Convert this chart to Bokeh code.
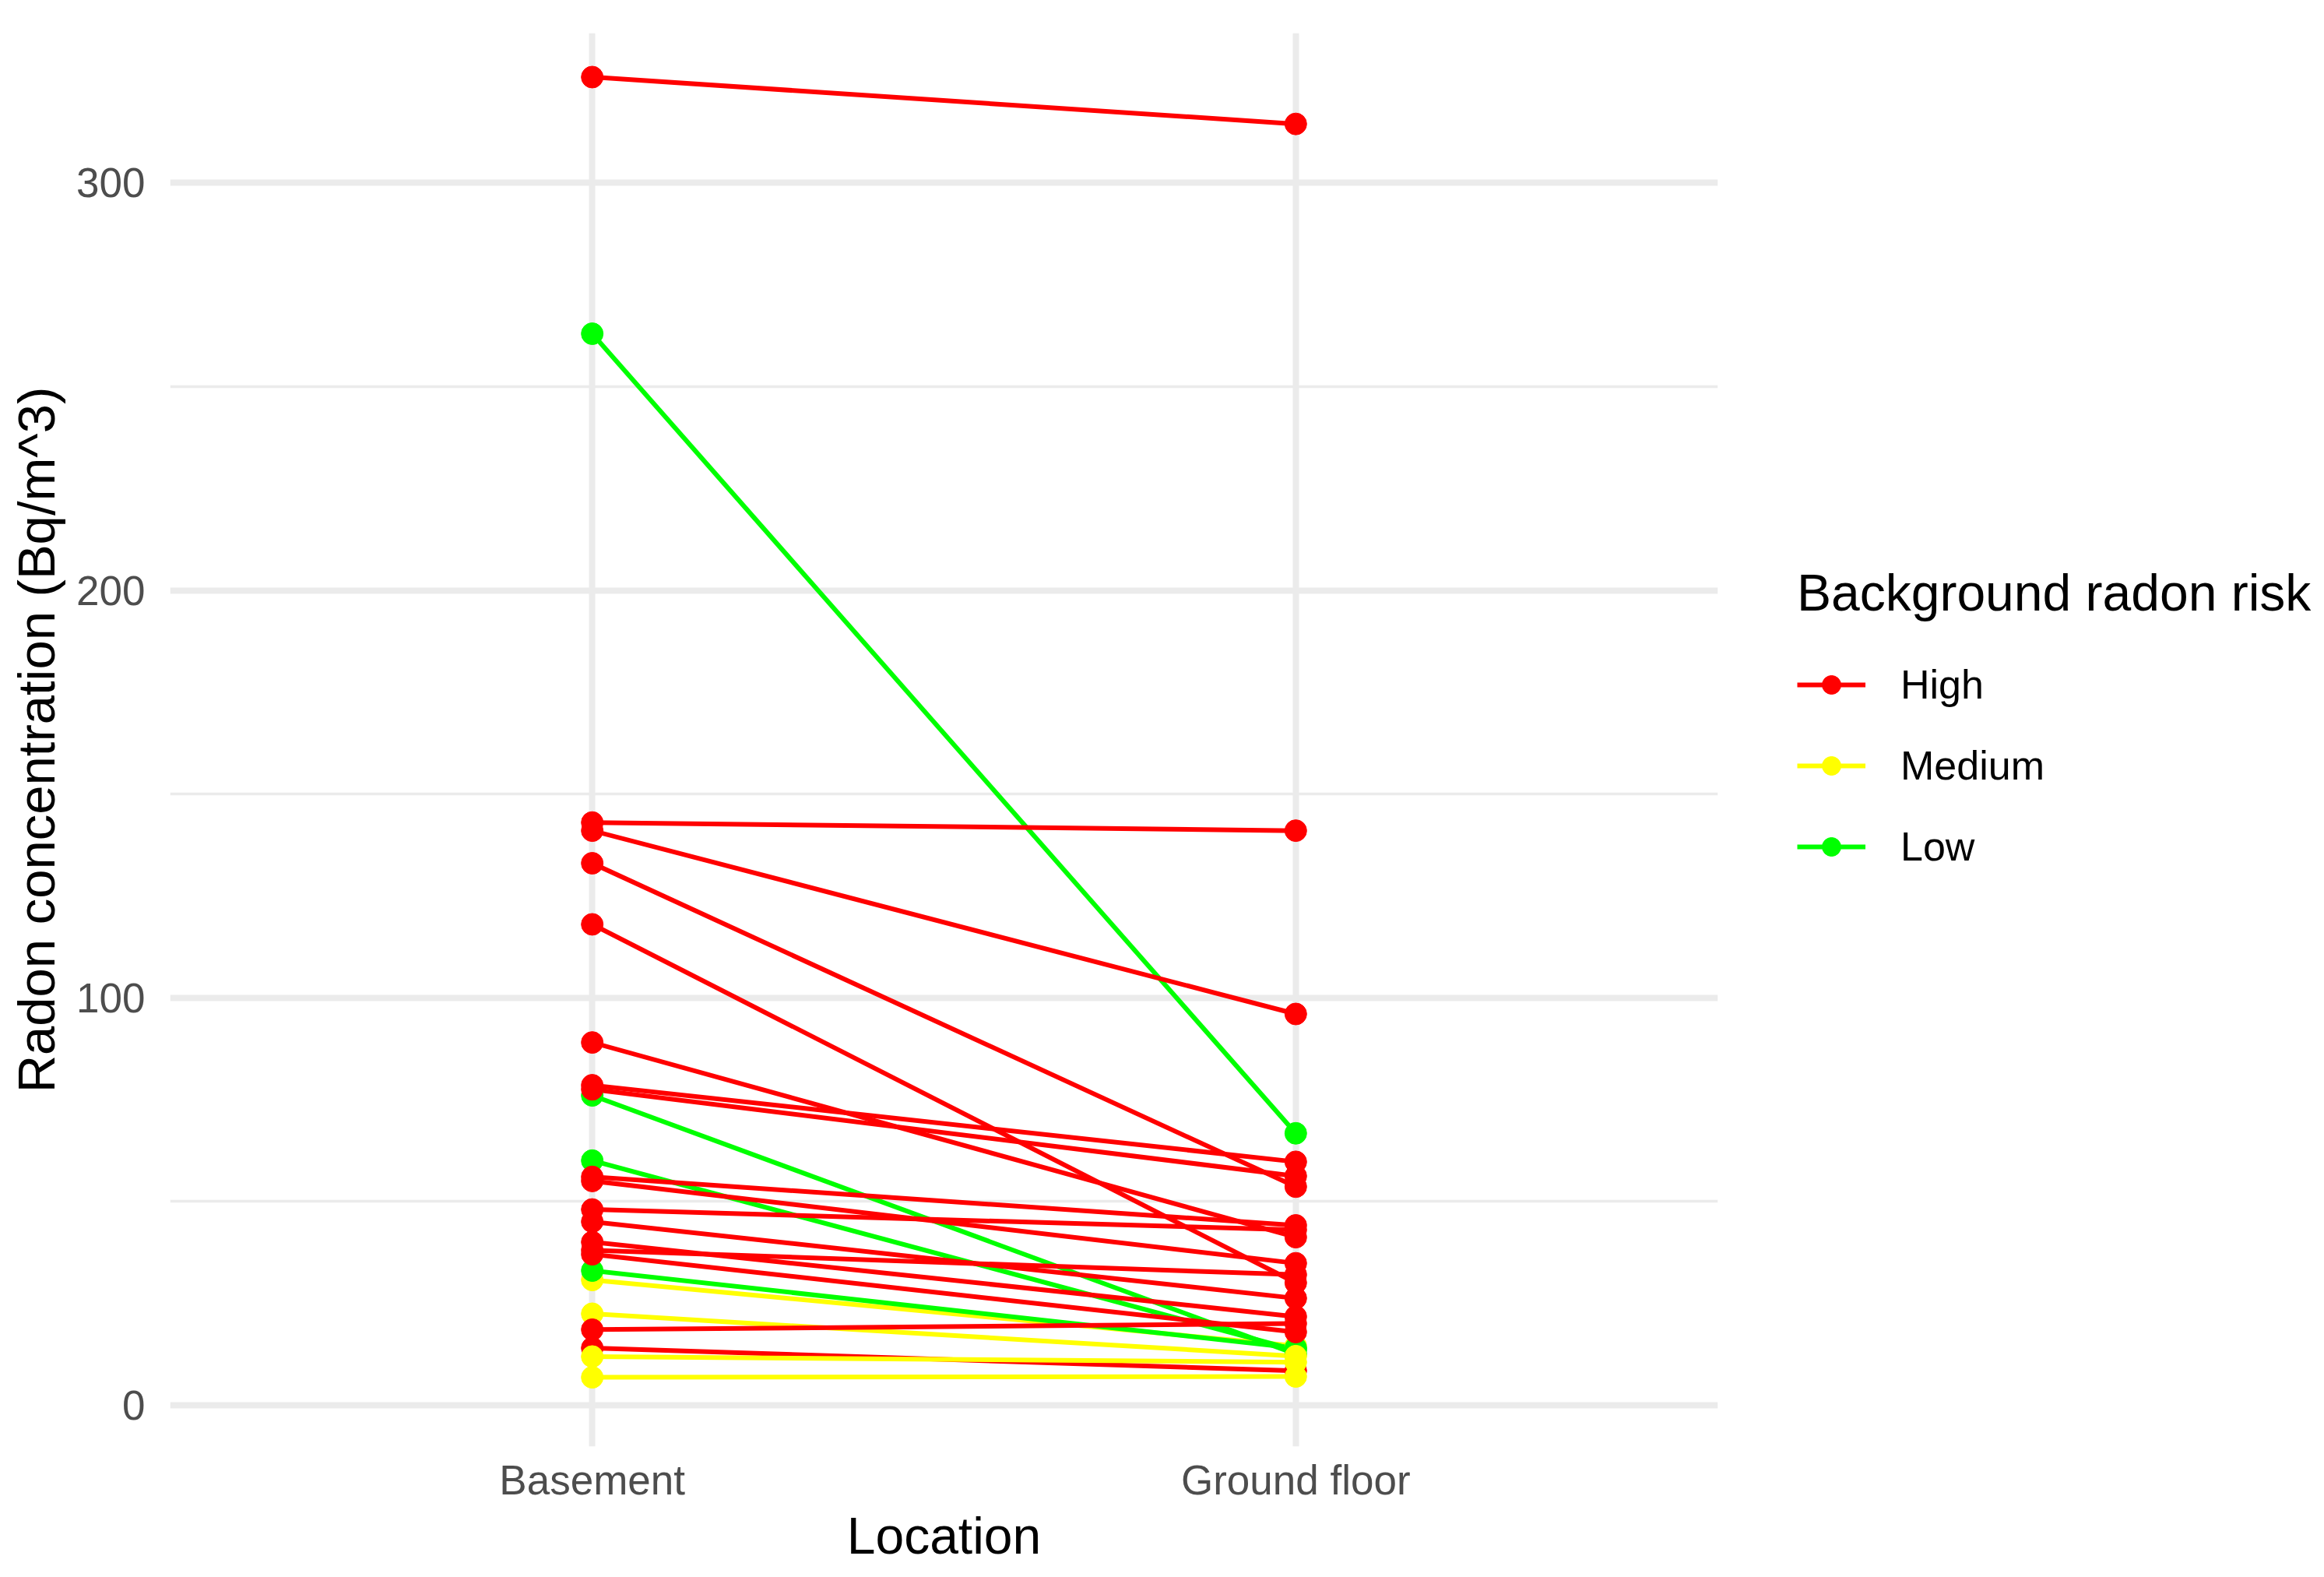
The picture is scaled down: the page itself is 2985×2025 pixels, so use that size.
from bokeh.plotting import figure
from bokeh.models import ColumnDataSource, FactorRange, Range1d, FixedTicker, Legend, LegendItem
from bokeh.embed import file_html
from bokeh.resources import INLINE

# ---- data ----
locations = ["Basement", "Ground floor"]
risk_levels = ["High", "Medium", "Low"]
risk_colors = ["#FF0000", "#FFFF00", "#00FF00"]

# one entry per house, in drawing order
house_risk = ["High", "Medium", "Low", "Low", "Low", "Low", "Medium", "Medium", "Medium",
              "High", "High", "High", "High", "High", "High", "High", "High", "High",
              "High", "High", "High", "High", "High", "High", "High"]
basement = [14.0, 30.7, 263.0, 76.0, 60.0, 33.0, 22.4, 11.9, 6.8,
            326.0, 143.0, 141.0, 133.0, 118.0, 89.0, 78.5, 77.5, 56.0,
            55.0, 48.0, 45.0, 40.0, 38.0, 37.0, 18.5]
ground_floor = [8.4, 14.5, 66.7, 12.5, 13.5, 14.0, 12.0, 10.5, 7.0,
                314.5, 141.0, 96.0, 53.6, 30.0, 41.2, 59.7, 56.2, 44.1,
                34.8, 43.0, 26.2, 21.7, 32.0, 17.9, 20.0]

y_ticks = [0, 100, 200, 300]
y_minor = [50, 150, 250]

color_of = dict(zip(risk_levels, risk_colors))
colors = [color_of[r] for r in house_risk]
n = len(house_risk)

line_src = ColumnDataSource(dict(
    xs=[list(locations) for _ in range(n)],
    ys=[[b, g] for b, g in zip(basement, ground_floor)],
    color=colors, risk=house_risk))
pt_src = ColumnDataSource(dict(
    x=[locations[0]] * n + [locations[1]] * n,
    y=basement + ground_floor,
    color=colors + colors))

FONT = "Liberation Sans"
GRID = "#EBEBEB"

p = figure(width=2980, height=2020, output_backend="svg", toolbar_location=None,
           x_range=FactorRange(factors=locations, range_padding=0.1, range_padding_units="absolute"),
           y_range=Range1d(-10.2, 336.8),
           min_border_left=218, min_border_right=774, min_border_top=42, min_border_bottom=163)
p.outline_line_color = None
p.background_fill_color = "white"

ml = p.multi_line(xs="xs", ys="ys", line_color="color", line_width=6, source=line_src)
sc = p.scatter(x="x", y="y", fill_color="color", line_color="color", size=28, source=pt_src)

# axes
p.yaxis.ticker = FixedTicker(ticks=y_ticks, minor_ticks=y_minor)
for ax in (p.xaxis[0], p.yaxis[0]):
    ax.axis_line_color = None
    ax.major_tick_line_color = None
    ax.minor_tick_line_color = None
    ax.major_label_text_font = FONT
    ax.major_label_text_font_size = "53px"
    ax.major_label_text_color = "#4D4D4D"
    ax.axis_label_text_font = FONT
    ax.axis_label_text_font_style = "normal"
    ax.axis_label_text_color = "black"
p.yaxis.axis_label = "Radon concentration (Bq/m^3)"
p.xaxis.axis_label = "Location"
p.yaxis.axis_label_text_font_size = "67px"
p.xaxis.axis_label_text_font_size = "66px"
p.yaxis.major_label_standoff = 26
p.yaxis.axis_label_standoff = 11
p.xaxis.major_label_standoff = 7
p.xaxis.axis_label_standoff = 2

p.xgrid.grid_line_color = GRID
p.xgrid.grid_line_width = 8
p.ygrid.grid_line_color = GRID
p.ygrid.grid_line_width = 8
p.ygrid.minor_grid_line_color = GRID
p.ygrid.minor_grid_line_width = 3.5

items = [LegendItem(label=lvl, renderers=[ml, sc], index=house_risk.index(lvl)) for lvl in risk_levels]
legend = Legend(items=items, location=(102, 740), title="Background radon risk",
                title_text_font=FONT, title_text_font_size="66px", title_text_font_style="normal",
                title_text_color="black", title_standoff=50,
                label_text_font=FONT, label_text_font_size="52px", label_text_color="black",
                glyph_width=88, glyph_height=60, spacing=44, label_standoff=45,
                padding=0, margin=0, border_line_color=None, background_fill_alpha=0)
p.add_layout(legend, "right")

open("out.html", "w").write(file_html(p, INLINE))
